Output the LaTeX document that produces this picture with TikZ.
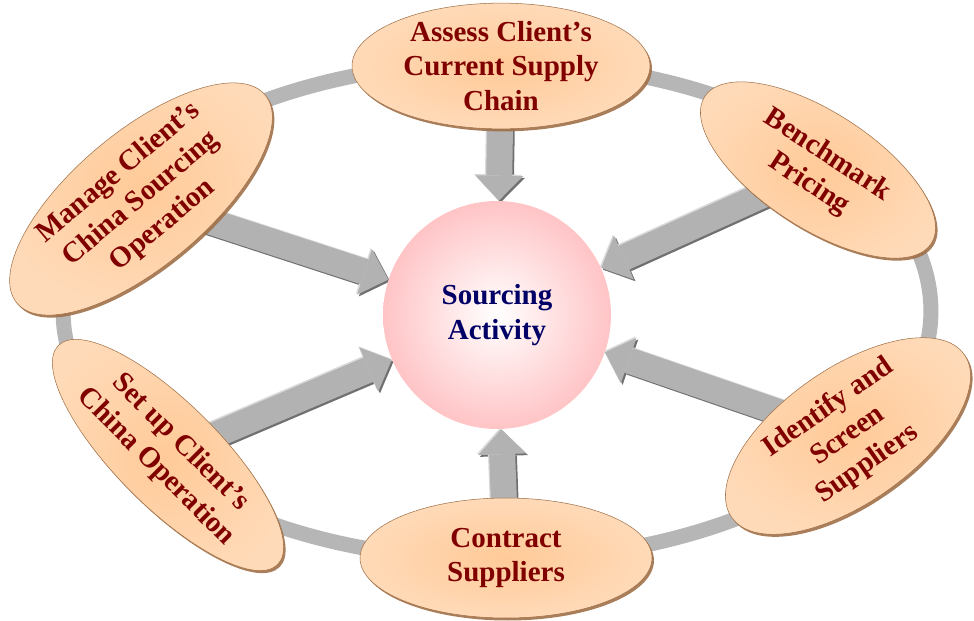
\documentclass[tikz,border=0pt]{standalone}
\usepackage{fontspec}
\setmainfont{Liberation Serif}
\usetikzlibrary{shapes.geometric,arrows.meta,shadows}
\definecolor{peach}{RGB}{255,202,152}
\definecolor{peachlt}{RGB}{255,218,184}
\definecolor{peachdk}{RGB}{160,112,72}
\definecolor{capred}{RGB}{128,0,0}
\definecolor{corenavy}{RGB}{0,0,102}
\definecolor{corepink}{RGB}{255,196,198}
\definecolor{ringgrey}{RGB}{182,182,182}
\definecolor{flowgrey}{RGB}{178,178,178}
\definecolor{flowlight}{RGB}{218,218,218}
\definecolor{flowdark}{RGB}{112,112,112}
\pgfdeclarelayer{back}
\pgfsetlayers{back,main}
\newcommand\feed[2]{%
  \draw[flow,draw=flowdark,transform canvas={shift={(0.035cm,-0.035cm)}}] (#1.center) -- (#2);
  \draw[flow,draw=flowlight,transform canvas={shift={(-0.025cm,0.025cm)}}] (#1.center) -- (#2);
  \draw[flow,draw=flowgrey] (#1.center) -- (#2);}
\begin{document}
\begin{tikzpicture}[x=0.02cm,y=-0.02cm,
  stage/.style={ellipse,inner sep=0pt,align=center,text=capred,
    font=\bfseries\fontsize{16.5}{19.5}\selectfont,
    inner color=peach,outer color=peachlt,draw=peachdk,line width=0.3pt,
    drop shadow={shadow xshift=0.04cm,shadow yshift=-0.05cm,fill=peachdk,opacity=0.9}},
  hubtext/.style={circle,inner sep=0pt,minimum size=4.56cm,align=center,text=corenavy,
    font=\bfseries\fontsize{16.5}{19.5}\selectfont,inner color=white,outer color=corepink},
  flow/.style={line width=0.52cm,-{Triangle[length=0.5cm,width=0.96cm,line width=0pt 0]}}]
\useasboundingbox (0,0) rectangle (974,620);

\node[hubtext] (core) at (497,315) {Sourcing\\Activity};

\node[stage,minimum width=5.96cm,minimum height=2.36cm] (assess) at (501,66)
  {Assess Client's\\Current Supply\\Chain};
\node[stage,minimum width=5.4cm,minimum height=2.32cm,rotate=-33] (bench) at (818,170)
  {Benchmark\\Pricing};
\node[stage,minimum width=5.68cm,minimum height=2.28cm,rotate=35] (screen) at (848,436)
  {Identify and\\Screen\\Suppliers};
\node[stage,minimum width=5.84cm,minimum height=2.4cm] (contract) at (506,558)
  {Contract\\Suppliers};
\node[stage,minimum width=6.2cm,minimum height=2.08cm,rotate=-45] (setup) at (168,455)
  {Set up Client's\\China Operation};
\node[stage,minimum width=6.48cm,minimum height=2.44cm,rotate=40] (manage) at (141,199)
  {Manage Client's\\China Sourcing\\Operation};

\begin{pgfonlayer}{back}
\draw[ringgrey,line width=0.3cm] (497,311) ellipse [x radius=8.68cm,y radius=4.98cm];
\feed{assess}{core}
\feed{bench}{core}
\feed{screen}{core}
\feed{contract}{core}
\feed{setup}{core}
\feed{manage}{core}
\end{pgfonlayer}
\end{tikzpicture}
\end{document}
